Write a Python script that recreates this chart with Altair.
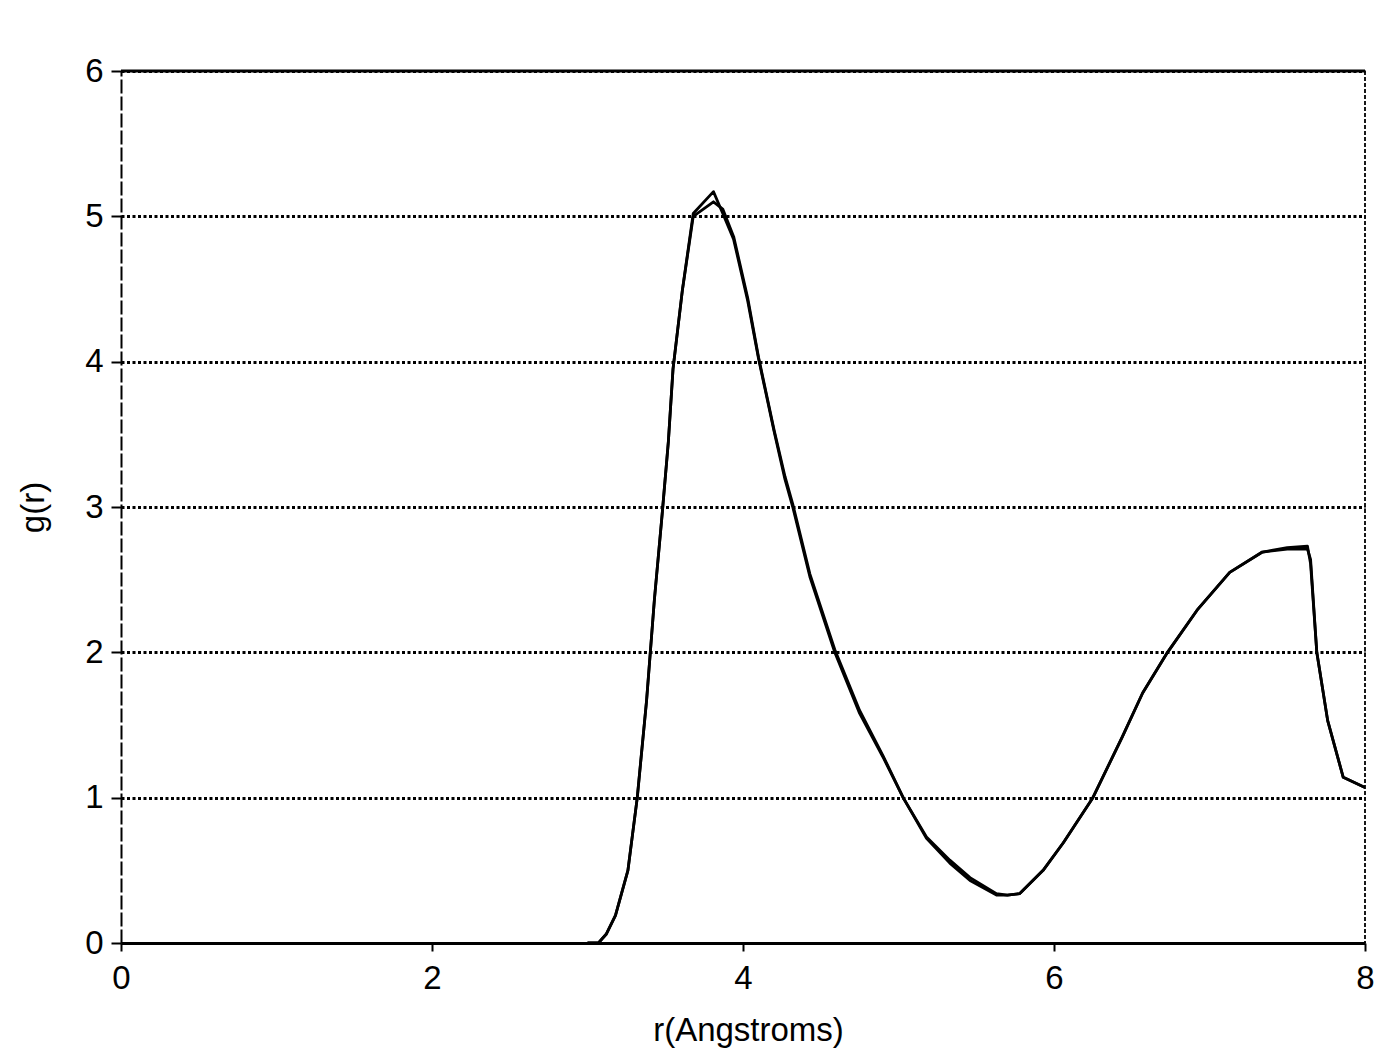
import altair as alt
import pandas as pd

# r (Angstroms) sample points and g(r) values for the two nearly identical curves
r_vals = [3.00, 3.07, 3.12, 3.18, 3.26, 3.32, 3.38, 3.43, 3.48, 3.52, 3.55, 3.61, 3.68,
          3.81, 3.87, 3.94, 4.03, 4.10, 4.20, 4.27, 4.32, 4.43, 4.59, 4.75, 4.90,
          5.03, 5.18, 5.33, 5.46, 5.63, 5.70, 5.78, 5.93, 6.06, 6.25, 6.44, 6.57,
          6.73, 6.92, 7.13, 7.34, 7.50, 7.63, 7.65, 7.69, 7.76, 7.86, 8.00]

g_a = [0.00, 0.00, 0.06, 0.19, 0.50, 1.00, 1.67, 2.36, 2.95, 3.45, 3.95, 4.49, 5.02,
       5.17, 5.02, 4.84, 4.42, 4.02, 3.52, 3.19, 3.00, 2.52, 2.00, 1.58, 1.28,
       1.00, 0.73, 0.57, 0.45, 0.34, 0.33, 0.34, 0.50, 0.69, 1.00, 1.42, 1.72,
       2.00, 2.29, 2.55, 2.69, 2.72, 2.73, 2.61, 2.00, 1.53, 1.14, 1.07]

g_b = [0.00, 0.00, 0.06, 0.19, 0.50, 1.00, 1.67, 2.36, 2.95, 3.45, 3.95, 4.49, 5.00,
       5.10, 5.05, 4.86, 4.44, 4.03, 3.53, 3.21, 3.02, 2.54, 2.02, 1.60, 1.29,
       1.00, 0.72, 0.55, 0.43, 0.33, 0.33, 0.34, 0.50, 0.69, 1.00, 1.42, 1.72,
       2.00, 2.29, 2.55, 2.69, 2.71, 2.71, 2.64, 2.00, 1.53, 1.14, 1.07]

x_ticks = [0, 2, 4, 6, 8]
y_ticks = [0, 1, 2, 3, 4, 5, 6]

df = pd.DataFrame({
    "r": r_vals * 2,
    "g": g_a + g_b,
    "run": ["A"] * len(r_vals) + ["B"] * len(r_vals),
})

FONT = "Liberation Sans"

x_scale = alt.Scale(domain=[0, 8], nice=False, zero=False)
y_scale = alt.Scale(domain=[0, 6], nice=False)

lines = alt.Chart(df).mark_line(color="black", strokeWidth=2.8, clip=True,
                                strokeJoin="round").encode(
    x=alt.X("r:Q", scale=x_scale,
            axis=alt.Axis(values=x_ticks, format="d", title="r(Angstroms)", grid=False,
                          domainColor="black", domainWidth=3, tickColor="black",
                          tickSize=8, tickWidth=2, labelPadding=11,
                          labelFontSize=33, labelFont=FONT, labelColor="black",
                          labelFlush=False,
                          titleFont=FONT, titleFontSize=33, titleFontWeight="normal",
                          titleColor="black", titleX=627, titleY=87,
                          titleBaseline="middle", titleAlign="center")),
    y=alt.Y("g:Q", scale=y_scale,
            axis=alt.Axis(values=y_ticks, format="d", title="g(r)", grid=True,
                          gridColor="black", gridDash=[3, 2.5], gridWidth=3,
                          domainColor="black", domainWidth=2, domainDash=[14, 3],
                          tickColor="black", tickSize=10, tickWidth=2,
                          labelPadding=8, labelFontSize=33, labelFont=FONT,
                          labelColor="black", labelFlush=False,
                          titleFont=FONT, titleFontSize=33, titleFontWeight="normal",
                          titleColor="black", titleAngle=270, titleX=-88,
                          titleY=436, titleBaseline="middle", titleAlign="center")),
    detail="run:N",
)

top_border = alt.Chart(pd.DataFrame({"v": [6]})).mark_rule(
    color="black", strokeWidth=3).encode(y=alt.Y("v:Q", scale=y_scale))

right_border = alt.Chart(pd.DataFrame({"v": [8]})).mark_rule(
    color="black", strokeWidth=1.8, strokeDash=[4, 2]).encode(x=alt.X("v:Q", scale=x_scale))

chart = alt.layer(lines, top_border, right_border).properties(
    width=1244,
    height=872,
    padding={"left": 121, "top": 71, "right": 15, "bottom": 114},
    autosize=alt.AutoSizeParams(type="none"),
    background="white",
).configure_view(stroke=None)

chart.save("out.html", embed_options={"renderer": "svg", "actions": False})
